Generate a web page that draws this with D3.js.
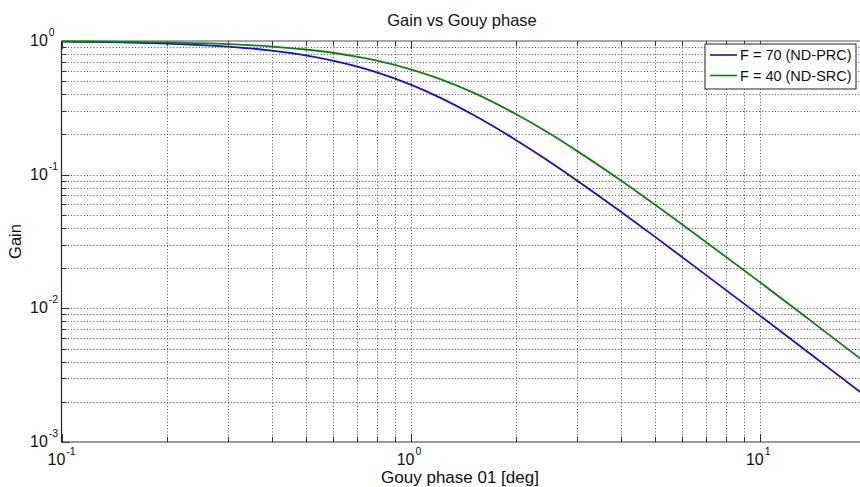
<!DOCTYPE html>
<html>
<head>
<meta charset="utf-8">
<script src="https://cdn.jsdelivr.net/npm/d3@7"></script>
<style>
  html, body { margin: 0; padding: 0; background: #fff; overflow: hidden; }
  svg { display: block; font-family: "Liberation Sans", Arial, Helvetica, sans-serif; }
</style>
</head>
<body>
<svg id="chart" width="860" height="487"></svg>
<script>
// Gouy phase of the 01 mode (degrees)
const phaseDeg = [0.1, 0.15, 0.2, 0.3, 0.4, 0.5, 0.7, 0.8, 1, 1.2, 1.5, 2, 2.5, 3, 4, 5, 7, 10, 15, 20];
// Gain for the two cavity finesses
const gainPRC = [0.989, 0.975, 0.957, 0.908, 0.848, 0.781, 0.645, 0.582, 0.471, 0.382, 0.283, 0.182, 0.125, 0.0900, 0.0527, 0.0344, 0.0178, 0.00882, 0.00394, 0.00222];
const gainSRC = [0.994, 0.986, 0.975, 0.946, 0.909, 0.864, 0.764, 0.713, 0.614, 0.525, 0.414, 0.284, 0.203, 0.150, 0.0904, 0.0598, 0.0314, 0.0157, 0.00702, 0.00396];
const seriesNames = ["F = 70 (ND-PRC)", "F = 40 (ND-SRC)"];
const seriesColors = ["#1010d0", "#108010"];
const xDecades = [-1, 0, 1];
const yDecades = [-3, -2, -1, 0];

const svg = d3.select("#chart");
const m = { left: 61.5, right: 865, top: 41, bottom: 442 };

const x = d3.scaleLog().domain([0.1, 20]).range([m.left, m.right]);
const y = d3.scaleLog().domain([1e-3, 1]).range([m.bottom, m.top]);

// minor/major tick values
const xTicks = [];
for (const d of xDecades) for (let k = 1; k <= 9; k++) { const v = k * Math.pow(10, d); if (v >= 0.1 && v <= 20.0001) xTicks.push(v); }
const yTicks = [];
for (const d of yDecades) for (let k = 1; k <= 9; k++) { const v = k * Math.pow(10, d); if (v >= 1e-3 && v <= 1.0001) yTicks.push(v); }
const isMajor = v => Math.abs(Math.log10(v) - Math.round(Math.log10(v))) < 1e-9;

// dotted grid
const grid = svg.append("g").attr("stroke", "#4a4a4a").attr("stroke-width", 1).attr("stroke-dasharray", "1,2.2");
grid.selectAll("line.gx").data(xTicks.filter(v => v > 0.1)).join("line")
  .attr("x1", d => Math.round(x(d)) + 0.5).attr("x2", d => Math.round(x(d)) + 0.5)
  .attr("y1", m.top).attr("y2", m.bottom);
grid.selectAll("line.gy").data(yTicks.filter(v => v > 1e-3 && v < 1)).join("line")
  .attr("y1", d => Math.round(y(d)) + 0.5).attr("y2", d => Math.round(y(d)) + 0.5)
  .attr("x1", m.left).attr("x2", m.right);

// axes frame
const frame = svg.append("g");
frame.append("line").attr("x1", m.left).attr("x2", m.right).attr("y1", m.bottom).attr("y2", m.bottom)
  .attr("stroke", "#7a7a7a").attr("stroke-width", 1.6);
frame.append("line").attr("x1", m.left).attr("x2", m.right).attr("y1", m.top).attr("y2", m.top)
  .attr("stroke", "#8a8a8a").attr("stroke-width", 1.4);
frame.append("line").attr("x1", m.left).attr("x2", m.left).attr("y1", m.top).attr("y2", m.bottom)
  .attr("stroke", "#222").attr("stroke-width", 1.2);

// tick marks (pointing inward)
const tk = svg.append("g").attr("stroke", "#333").attr("stroke-width", 1);
tk.selectAll("line.tb").data(xTicks).join("line")
  .attr("x1", d => Math.round(x(d)) + 0.5).attr("x2", d => Math.round(x(d)) + 0.5)
  .attr("y1", m.bottom).attr("y2", d => m.bottom - (isMajor(d) ? 8 : 5));
tk.selectAll("line.tt").data(xTicks).join("line")
  .attr("x1", d => Math.round(x(d)) + 0.5).attr("x2", d => Math.round(x(d)) + 0.5)
  .attr("y1", m.top).attr("y2", d => m.top + (isMajor(d) ? 8 : 5));
tk.selectAll("line.tl").data(yTicks).join("line")
  .attr("y1", d => Math.round(y(d)) + 0.5).attr("y2", d => Math.round(y(d)) + 0.5)
  .attr("x1", m.left).attr("x2", d => m.left + (isMajor(d) ? 8 : 5));

// tick labels: 10 with superscript exponent
const lab = svg.append("g").attr("fill", "#111");
xDecades.forEach(d => {
  const px = x(Math.pow(10, d));
  if (px > 860) return;
  const t = lab.append("text").attr("x", px - 14).attr("y", 465).attr("font-size", 16);
  t.append("tspan").text("10");
  t.append("tspan").attr("font-size", 10.5).attr("dy", -10).attr("dx", 1).text(d);
});
yDecades.forEach(d => {
  const py = y(Math.pow(10, d));
  const t = lab.append("text").attr("x", 30).attr("y", py + 5).attr("font-size", 16);
  t.append("tspan").text("10");
  t.append("tspan").attr("font-size", 10.5).attr("dy", -10).attr("dx", 1).text(d);
});

// titles
svg.append("text").attr("x", 462).attr("y", 26).attr("text-anchor", "middle")
  .attr("font-size", 16.5).attr("fill", "#111").text("Gain vs Gouy phase");
svg.append("text").attr("x", 460).attr("y", 483).attr("text-anchor", "middle")
  .attr("font-size", 17).attr("fill", "#111").text("Gouy phase 01 [deg]");
svg.append("text").attr("transform", `translate(21,${(m.top + m.bottom) / 2}) rotate(-90)`)
  .attr("text-anchor", "middle").attr("font-size", 16.5).attr("fill", "#111").text("Gain");

// curves
const line = d3.line().x(d => x(d[0])).y(d => y(d[1])).curve(d3.curveMonotoneX);
[gainPRC, gainSRC].forEach((g, i) => {
  svg.append("path").datum(phaseDeg.map((p, j) => [p, g[j]]))
    .attr("fill", "none").attr("stroke", seriesColors[i]).attr("stroke-width", 1.8)
    .attr("d", line);
});

// legend
const lg = svg.append("g");
lg.append("rect").attr("x", 705).attr("y", 44).attr("width", 151).attr("height", 45)
  .attr("fill", "#fff").attr("stroke", "#222").attr("stroke-width", 1);
seriesNames.forEach((name, i) => {
  const ly = 55 + i * 20.5;
  lg.append("line").attr("x1", 710).attr("x2", 737).attr("y1", ly).attr("y2", ly)
    .attr("stroke", seriesColors[i]).attr("stroke-width", 1.6);
  lg.append("text").attr("x", 740).attr("y", ly + 5).attr("font-size", 14.5).attr("fill", "#111").text(name);
});
</script>
</body>
</html>
